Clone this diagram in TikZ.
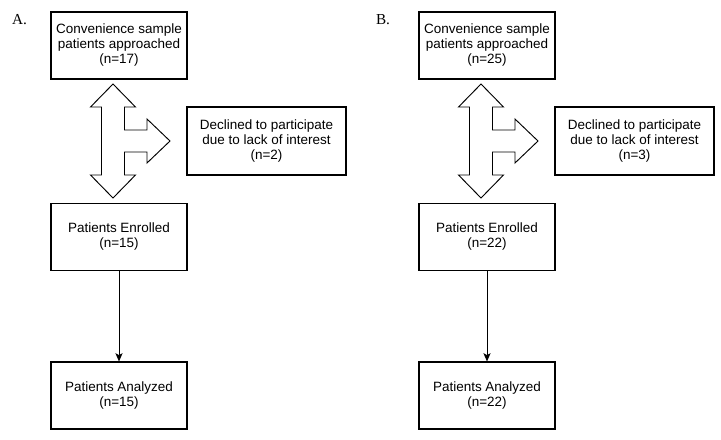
\documentclass[tikz,border=0pt]{standalone}
\usepackage{fontspec}
\setmainfont{Liberation Sans}
\newfontfamily\labelfont{Liberation Serif}
\usetikzlibrary{arrows.meta}

\tikzset{
	stepbox/.style={rectangle, draw, line width=0.9pt, align=center,
		minimum width=4.08cm, minimum height=2.01cm, inner sep=0pt,
		font=\fontsize{11.5}{12.8}\selectfont},
	sidebox/.style={stepbox, minimum width=4.77cm, minimum height=2.04cm},
	panel/.style={font=\labelfont\fontsize{13}{15}\selectfont},
	splitarrow/.style={draw, line width=0.8pt, fill=white, line join=miter},
	flow/.style={draw, line width=0.8pt, -{Stealth[length=7pt, width=6pt, inset=1.5pt]}}
}

\begin{document}
\begin{tikzpicture}[x=0.03cm, y=-0.03cm]

	\useasboundingbox (0, 0) rectangle (721, 439);

	% panel A
	\node (labA) [panel] at (19.5, 20) {A.};
	\node (appA) [stepbox] at (119, 45.5) {Convenience sample\\patients approached\\(n=17)};
	\node (decA) [sidebox] at (266.5, 141) {Declined to participate\\due to lack of interest\\(n=2)};
	\node (enrA) [stepbox] at (119, 237) {Patients Enrolled\\(n=15)};
	\node (anaA) [stepbox] at (119, 395.5) {Patients Analyzed\\(n=15)};

	\path[splitarrow] (113, 84) -- (135.5, 107) -- (124.5, 107) -- (124.5, 130)
		-- (147, 130) -- (147, 119) -- (170, 141) -- (147, 163) -- (147, 152)
		-- (124.5, 152) -- (124.5, 175) -- (135.5, 175) -- (113, 198)
		-- (90.5, 175) -- (101.5, 175) -- (101.5, 107) -- (90.5, 107) -- cycle;

	% panel B
	\node (labB) [panel] at (383, 20) {B.};
	\node (appB) [stepbox] at (487, 45.5) {Convenience sample\\patients approached\\(n=25)};
	\node (decB) [sidebox] at (634.5, 141) {Declined to participate\\due to lack of interest\\(n=3)};
	\node (enrB) [stepbox] at (487, 237) {Patients Enrolled\\(n=22)};
	\node (anaB) [stepbox] at (487, 395.5) {Patients Analyzed\\(n=22)};

	\path[splitarrow] (481, 84) -- (503.5, 107) -- (492.5, 107) -- (492.5, 130)
		-- (515, 130) -- (515, 119) -- (538, 141) -- (515, 163) -- (515, 152)
		-- (492.5, 152) -- (492.5, 175) -- (503.5, 175) -- (481, 198)
		-- (458.5, 175) -- (469.5, 175) -- (469.5, 107) -- (458.5, 107) -- cycle;

	\path[flow]
	(enrA) edge (anaA)
	(enrB) edge (anaB);

\end{tikzpicture}
\end{document}
